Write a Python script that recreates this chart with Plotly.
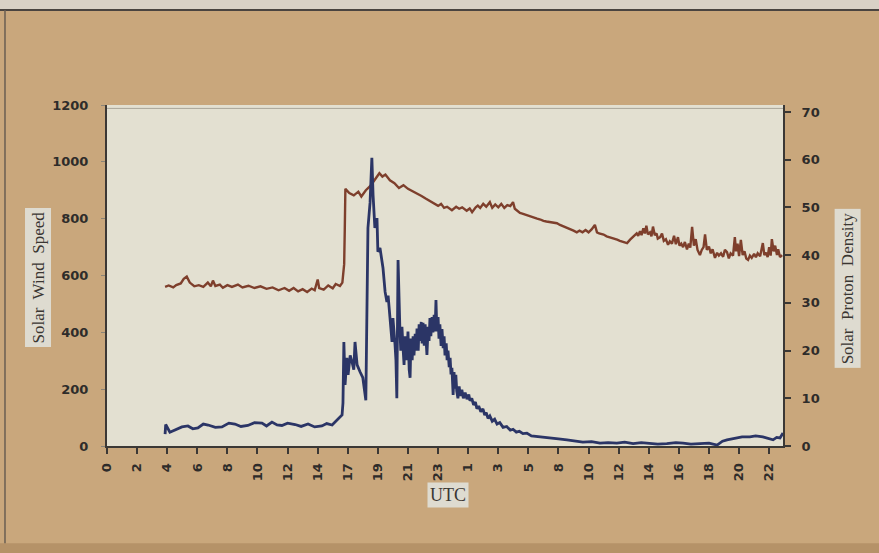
import plotly.graph_objects as go

# x positions are in tick-slot units (one slot per labelled tick)
tick_labels = ["0", "2", "4", "6", "8", "10", "12", "14", "17", "19", "21", "23",
               "1", "3", "5", "8", "10", "12", "14", "16", "18", "20", "22"]

speed_x = [1.93, 2.05, 2.2, 2.3, 2.45, 2.55, 2.65, 2.75, 2.9, 3.05, 3.2, 3.35, 3.45, 3.52,
           3.6, 3.75, 3.85, 4.0, 4.15, 4.35, 4.5, 4.7, 4.9, 5.1, 5.3, 5.5, 5.7, 5.9, 6.05,
           6.2, 6.35, 6.5, 6.65, 6.8, 6.9, 7.0, 7.05, 7.2, 7.35, 7.5, 7.6, 7.74, 7.82, 7.88,
           7.9, 7.92, 8.05, 8.2, 8.35, 8.45, 8.6, 8.75, 8.85, 8.95, 9.05, 9.15, 9.25, 9.4,
           9.55, 9.7, 9.85, 10.0, 10.2, 10.45, 10.6, 10.8,
           11.0, 11.1, 11.2, 11.3, 11.46, 11.6, 11.7, 11.8, 11.95, 12.05, 12.13, 12.25,
           12.32, 12.4, 12.5, 12.6, 12.72, 12.8, 12.9, 13.0, 13.1, 13.2, 13.3, 13.4, 13.49,
           13.55, 13.65, 13.72, 13.8, 13.95, 14.05, 14.15, 14.29, 14.4, 14.5, 14.6, 14.7,
           14.8, 14.95, 15.05, 15.15, 15.3, 15.4, 15.5, 15.61, 15.7, 15.8, 15.9, 16.0, 16.1,
           16.21, 16.28, 16.35, 16.5, 16.6, 16.71, 16.85, 16.95, 17.04, 17.15, 17.28, 17.38,
           17.5, 17.6, 17.65, 17.71, 17.76, 17.82, 17.87, 17.92, 17.97, 18.04, 18.09, 18.14,
           18.2, 18.26, 18.3, 18.38, 18.44, 18.5, 18.57, 18.64, 18.7, 18.77, 18.84, 18.9,
           18.97, 19.02, 19.08, 19.14, 19.2, 19.27, 19.33, 19.38, 19.44, 19.5, 19.56, 19.62,
           19.7, 19.76, 19.82, 19.87, 19.93, 20.0, 20.06, 20.12, 20.2, 20.27, 20.33, 20.4,
           20.47, 20.53, 20.6, 20.66, 20.72, 20.8, 20.86, 20.9, 20.95, 21.0, 21.06, 21.12,
           21.18, 21.24, 21.3, 21.36, 21.42, 21.5, 21.56, 21.62, 21.7, 21.75, 21.79, 21.84,
           21.9, 21.95, 22.0, 22.05, 22.09, 22.15, 22.2, 22.26, 22.3, 22.36, 22.43]
speed_v = [560, 565, 558, 566, 572, 588, 596, 575, 562, 566, 560, 575, 562, 582,
           563, 568, 557, 566, 560, 568, 558, 564, 556, 562, 553, 558, 548, 556, 546,
           556, 544, 552, 542, 554, 548, 586, 556, 550, 565, 555, 570, 563, 575, 640,
           760, 905, 890, 882, 895, 878, 900, 915, 930, 945, 960, 948, 955, 935,
           925, 908, 918, 905, 895, 880, 870, 858,
           845, 852, 838, 842, 830, 842, 835, 840, 828, 836, 823, 840,
           846, 838, 852, 842, 858, 838, 850, 840, 852, 838, 848, 844, 858,
           835, 826, 820, 818, 812, 808, 806, 800, 797, 792, 790, 788,
           786, 784, 778, 774, 768, 763, 758, 752, 758, 752, 760, 752, 762,
           778, 752, 748, 744, 738, 735, 730, 726, 722, 718, 714, 726,
           738, 748, 740, 756, 742, 766, 748, 775, 745, 752, 738, 772,
           742, 748, 730, 735, 748, 722, 728, 708, 720, 712, 740, 710,
           735, 705, 712, 700, 718, 692, 712, 698, 771, 705, 728, 690,
           672, 690, 700, 745, 690, 702, 678, 692, 662, 680, 670, 678,
           666, 690, 682, 660, 678, 670, 735, 685, 712, 668, 725, 672,
           685, 660, 655, 670, 662, 676, 664, 678, 668, 690, 714, 672,
           680, 665, 700, 670, 728, 685, 705, 672, 692, 665, 672]

density_x = [1.93, 1.95, 2.09, 2.26, 2.49, 2.69, 2.85, 3.02, 3.2, 3.36, 3.6, 3.82, 4.05, 4.25,
             4.45, 4.68, 4.9, 5.15, 5.3, 5.48, 5.65, 5.81, 6.0, 6.25, 6.45, 6.68, 6.9, 7.14,
             7.3, 7.48, 7.64, 7.81, 7.84, 7.87, 7.91, 7.97, 8.01, 8.08, 8.14, 8.2, 8.24,
             8.31, 8.41, 8.5, 8.6, 8.64, 8.67, 8.74, 8.8, 8.84, 8.9, 8.97, 9.0, 9.07,
             9.17, 9.24, 9.3, 9.34, 9.4, 9.44, 9.47, 9.5, 9.54, 9.57, 9.6, 9.63, 9.67,
             9.7, 9.73, 9.76, 9.8, 9.83, 9.87, 9.9, 9.94, 9.97, 10.0, 10.04, 10.07, 10.1,
             10.14, 10.17, 10.2, 10.24, 10.27, 10.3, 10.34, 10.37, 10.4, 10.44, 10.47,
             10.5, 10.54, 10.57, 10.6, 10.63, 10.67, 10.7, 10.73, 10.76, 10.8, 10.83,
             10.87, 10.9, 10.93, 10.96, 11.0, 11.03, 11.06, 11.1, 11.13, 11.17, 11.2,
             11.23, 11.27, 11.3, 11.33, 11.37, 11.4, 11.43, 11.46, 11.5, 11.53, 11.56,
             11.59, 11.62, 11.66, 11.7, 11.74, 11.79, 11.84, 11.9, 11.96, 12.02, 12.06,
             12.12, 12.18, 12.24, 12.29, 12.35, 12.42, 12.49, 12.55, 12.6, 12.66, 12.72,
             12.8, 12.88, 12.96, 13.05, 13.16, 13.28, 13.4, 13.49, 13.6, 13.7, 13.82,
             13.95, 14.1, 14.29, 14.5, 14.72, 15.0, 15.28, 15.55, 15.81, 16.1, 16.38,
             16.65, 16.94, 17.2, 17.48, 17.75, 18.04, 18.3, 18.6, 18.9, 19.14, 19.4, 19.7,
             20.0, 20.27, 20.45, 20.6, 20.8, 20.93, 21.1, 21.36, 21.55, 21.79, 22.0, 22.13,
             22.25, 22.36, 22.46]
density_v = [2.5, 4.5, 2.9, 3.4, 4.0, 4.2, 3.6, 3.8, 4.6, 4.4, 3.9, 4.0, 4.8, 4.6,
             4.1, 4.3, 4.9, 4.8, 4.2, 5.0, 4.4, 4.3, 4.8, 4.5, 4.1, 4.6, 4.0, 4.2,
             4.7, 4.4, 5.5, 6.5, 9.0, 21.8, 12.8, 18.5, 14.9, 19.0, 17.6, 16.0, 21.8,
             17.0, 15.5, 14.3, 9.6, 39.0, 45.7, 51.0, 60.4, 52.6, 45.7, 47.8, 40.7, 41.5,
             37.3, 32.3, 30.2, 31.5, 27.5, 24.0, 21.8, 26.8, 22.0, 21.2, 18.0, 10.0, 39.0,
             27.0, 24.7, 20.0, 25.0, 21.2, 17.0, 23.0, 18.0, 19.7, 24.0, 16.0, 14.3, 22.5,
             18.0, 23.0, 19.0, 23.5, 20.0, 24.6, 20.0, 25.5, 22.0, 26.0, 21.5,
             25.8, 21.0, 25.5, 23.0, 19.1, 25.0, 22.0, 26.8, 23.0, 27.0, 23.8,
             27.5, 24.0, 30.6, 24.0, 27.0, 22.5, 25.5, 21.0, 24.5, 20.5, 23.0,
             19.0, 21.5, 18.0, 20.0, 16.5, 18.5, 15.0, 16.4, 10.7, 15.5, 12.0,
             14.9, 11.5, 10.0, 12.5, 10.5, 11.8, 10.0, 11.2, 9.8, 10.8, 9.5,
             10.0, 8.6, 9.2, 7.8, 8.4, 7.2, 7.8, 6.5, 7.0, 5.8, 6.3,
             5.2, 5.6, 4.6, 4.9, 3.9, 4.1, 3.3, 3.5, 2.9, 3.1, 2.6,
             2.7, 2.1, 2.0, 1.8, 1.7, 1.5, 1.3, 1.1, 0.8, 0.9, 0.6,
             0.7, 0.6, 0.8, 0.5, 0.7, 0.6, 0.4, 0.5, 0.7, 0.6, 0.4, 0.5,
             0.6, 0.2, 1.0, 1.3, 1.5, 1.7, 1.9, 1.9, 2.1, 1.9, 1.6, 1.3,
             1.8, 1.7, 2.7]

SPEED_COLOR = "#7e3f2c"
DENS_COLOR = "#2b3566"
AXIS_COLOR = "#3b3835"
TAN = "#c9a77c"
PLOT_BG = "#e3e0d1"

fig = go.Figure()
fig.add_trace(go.Scatter(x=speed_x, y=speed_v, mode="lines", name="Solar Wind Speed",
                         line=dict(color=SPEED_COLOR, width=2.4), yaxis="y"))
fig.add_trace(go.Scatter(x=density_x, y=density_v, mode="lines", name="Solar Proton Density",
                         line=dict(color=DENS_COLOR, width=2.8), yaxis="y2"))

tickfont = dict(family="DejaVu Sans", size=13, color="#2e2c2a", weight="bold")

fig.update_layout(
    width=879, height=553,
    margin=dict(l=107, r=96, t=105, b=107),
    paper_bgcolor=TAN,
    plot_bgcolor=PLOT_BG,
    showlegend=False,
    xaxis=dict(range=[0, 22.46], tickmode="array", tickvals=list(range(len(tick_labels))),
               ticktext=tick_labels, tickangle=-90, tickfont=tickfont,
               showgrid=False, zeroline=False, showline=True, linecolor=AXIS_COLOR,
               linewidth=2, ticks="outside", ticklen=6, tickwidth=2, tickcolor=AXIS_COLOR,
               ticklabelstandoff=4),
    yaxis=dict(range=[0, 1200], tickvals=[0, 200, 400, 600, 800, 1000, 1200],
               tickfont=tickfont, showgrid=False, zeroline=False, showline=True,
               linecolor=AXIS_COLOR, linewidth=2, ticks="outside", ticklen=4,
               tickwidth=1, tickcolor="#8a8478", ticklabelstandoff=10),
    yaxis2=dict(range=[0, 71.47], tickvals=[0, 10, 20, 30, 40, 50, 60, 70],
                overlaying="y", side="right", tickfont=tickfont, showgrid=False,
                zeroline=False, showline=True, linecolor=AXIS_COLOR, linewidth=2,
                ticks="outside", ticklen=6, tickwidth=2, tickcolor=AXIS_COLOR,
                ticklabelstandoff=8),
    shapes=[
        dict(type="line", xref="paper", yref="paper", x0=0, x1=1, y0=0.99, y1=0.99,
             line=dict(color="#aaa599", width=1)),
        dict(type="rect", xref="paper", yref="paper", x0=-0.2, x1=1.2, y0=1.2786, y1=1.32,
             fillcolor="#d9d1c6", line=dict(width=0), layer="below"),
        dict(type="line", xref="paper", yref="paper", x0=-0.16, x1=1.2, y0=1.2786, y1=1.2786,
             line=dict(color="#4a4440", width=2)),
        dict(type="line", xref="paper", yref="paper", x0=-0.1509, x1=-0.1509, y0=-0.285,
             y1=1.2786, line=dict(color="#6a5e52", width=1.5)),
        dict(type="rect", xref="paper", yref="paper", x0=-0.2, x1=1.2, y0=-0.32, y1=-0.285,
             fillcolor="#b59268", line=dict(width=0), layer="below"),
    ],
    annotations=[
        dict(text="Solar  Wind  Speed", xref="paper", yref="paper", x=-0.1213, y=0.4927,
             showarrow=False, textangle=-90, bgcolor="#dedbd0",
             font=dict(family="Liberation Serif", size=17, color="#3a3632"), borderpad=3),
        dict(text="Solar  Proton  Density", xref="paper", yref="paper", x=1.115, y=0.463,
             showarrow=False, textangle=-90, bgcolor="#dedbd0",
             font=dict(family="Liberation Serif", size=17, color="#3a3632"), borderpad=3),
        dict(text="UTC", xref="paper", yref="paper", x=0.504, y=-0.182,
             showarrow=False, bgcolor="#dedbd0",
             font=dict(family="Liberation Serif", size=18, color="#3a3632"), borderpad=2),
    ],
)

fig.write_html("out.html", config={"displayModeBar": False},
               post_script="document.body.style.margin='0px';document.body.style.overflow='hidden';")
